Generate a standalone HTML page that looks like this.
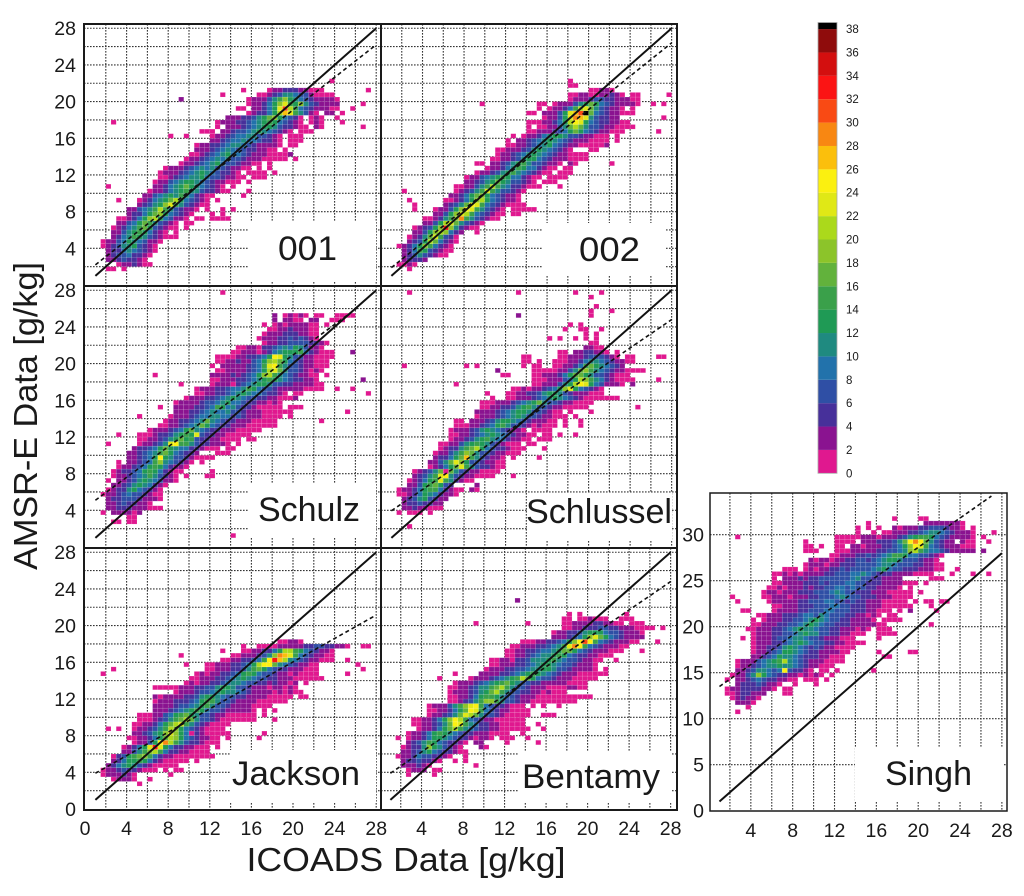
<!DOCTYPE html>
<html lang="en">
<head>
<meta charset="utf-8">
<title>AMSR-E vs ICOADS humidity scatter panels</title>
<style>
html,body{margin:0;padding:0;background:#fff;}
body{width:1024px;height:896px;overflow:hidden;}
svg{display:block;}
text{font-family:"Liberation Sans",sans-serif;fill:#1a1a1a;}
</style>
</head>
<body>
<svg id="chart" xmlns="http://www.w3.org/2000/svg" width="1024" height="896" viewBox="0 0 1024 896" style="filter:blur(0.35px)"></svg>
<script>
const gridTicks = [2,4,6,8,10,12,14,16,18,20,22,24,26,28];
const leftYLabels = [4,8,12,16,20,24,28];
const bottomYLabels = [0,4,8,12,16,20,24,28];
const leftXLabels = [0,4,8,12,16,20,24,28];
const midXLabels = [4,8,12,16,20,24,28];
const singhYTicks = [0,5,10,15,20,25,30];
const colorbarLevels = [0,2,4,6,8,10,12,14,16,18,20,22,24,26,28,30,32,34,36,38];
const colorbarColors = ['#e0188f','#8a1390','#47309a','#2f4fa5','#2272ab','#1f8a80','#1f9a55','#3aa04a','#62b23c','#8cc42a','#abd91b','#e0e816','#fbf010','#fbbf0c','#f88712','#f94a14','#fb1414','#d30f0f','#8f0c0c'];
const oneToOne = [[1,1],[28,28]];
const fit001 = [[1,2.2],[28,26.2]];
const fit002 = [[1,1.9],[28,26.4]];
const fitSchulz = [[1,5.1],[26.2,26.1]];
const fitSchlussel = [[1,3.95],[28,24.8]];
const fitJackson = [[1,3.9],[28,21.15]];
const fitBentamy = [[1,3.9],[28,24.8]];
const fitSingh = [[1,13.5],[27,34.2]];

/* each row: y bin, first x bin, then counts */
const cells001 = [
[1.5,2,1,1,0,1],[2,3,1,3,3,5,3,1,1],[2.5,2,3,3,5,7,5,5,3,1],[3,2,3,5,7,7,9,5,5,3,1],
[3.5,2,3,5,5,9,11,9,7,5,3,1],[4,1.5,1,3,5,7,11,11,13,7,5,3,1],[4.5,1.5,1,3,3,7,9,13,11,9,7,3,3,1],
[5,2.5,3,5,9,11,15,13,11,7,5,3,1,1,1],[5.5,2.5,3,3,7,11,13,15,13,9,5,3,1,0,1],
[6,2.5,1,3,5,9,11,15,17,13,7,5,3,1,1,0,1],[6.5,3,3,3,7,9,13,17,15,11,7,5,3,1,0,1,1],
[7,3,1,1,3,5,9,13,19,21,13,9,7,3,3,1,0,1,1,0,1,1,1,1],[7.5,4,3,5,5,9,13,17,19,13,9,7,5,3,1,0,0,0,1,0,1],
[8,4,3,3,7,9,11,15,21,15,11,7,5,3,3,1,0,1,0,0,1,0,1],[8.5,5,3,5,7,11,13,19,23,15,11,7,5,3,1,1],
[9,5,1,3,5,9,11,13,17,21,13,9,7,5,3,1,0,1],[9.5,5.5,3,3,7,9,11,13,11,15,11,9,5,3,1,1,0,0,0,0,0,1],
[10,6,1,3,3,5,9,11,13,15,11,11,7,5,5,3,1,1,0,0,0,1],[10.5,6.5,3,3,5,9,11,13,17,13,11,9,7,5,3,1,0,1],
[11,6.5,1,3,3,7,9,11,13,13,11,9,7,5,3,3,1,1,1,0,1],[11.5,7,1,1,3,5,7,9,11,11,13,9,7,7,5,3,3,1,1,0,1,1,1],
[12,7,1,3,3,3,5,7,9,11,13,11,9,7,5,5,3,1,0,1,1,1,1,0,1],[12.5,7.5,1,3,3,3,5,7,9,11,9,11,7,7,5,3,3,1,1,0,1,0,1],
[13,9,1,3,3,5,7,9,11,13,9,7,7,5,3,3,1,1,0,1],[13.5,9.5,1,3,3,5,7,9,11,9,11,7,7,5,3,3,3,1,1,1,1,1,0,1],
[14,10,1,1,3,5,7,9,11,13,9,9,7,5,3,3,3,1,1,1,1,3],[14.5,10.5,3,3,3,5,7,9,11,9,7,7,5,5,3,3,1,1,0,1],
[15,10.5,1,3,3,5,5,7,9,11,11,9,7,5,3,3,3,3,1,0,1,1],[15.5,12,3,3,5,7,9,9,11,9,9,7,5,5,3,1,0,1,1,1],
[16,12,1,3,3,5,7,9,9,11,11,7,7,5,3,1,0,1,1,1],[16.5,11,1,1,1,0,3,3,5,7,7,9,11,13,11,9,7,5,3,1,0,1,1,1],
[17,12.5,1,0,3,3,3,5,7,9,11,13,13,11,7,5,5,3,1,1,0,3,1],[17.5,12.5,1,3,3,3,5,5,7,9,11,13,15,13,9,7,5,3,1,0,1,3,1],
[18,13.5,3,3,3,5,5,7,11,13,17,19,13,9,7,5,1,0,1,3,1],[18.5,15.5,1,3,5,5,9,13,21,27,23,15,11,7,3,1,0,3,3,0,1],
[19,14.5,1,1,0,3,3,5,9,13,23,31,21,15,9,7,5,3,3,3,1,1],[19.5,15.5,1,3,3,5,9,13,19,23,15,13,19,11,7,5,3,3,3,3],
[20,15.5,1,3,3,3,7,11,15,19,13,11,9,7,5,3,3,3,3,1],[20.5,16.5,1,1,3,5,7,11,11,9,7,7,3,1,1,1,1],
[21,17.5,1,3,3,5,5,5,3,3,1,1,1],
[17.5,2.5,1],[10.5,2,1],[9,3,1],[20,9,3],[20.5,13,1],[21,15,1],[16,8,1],[16,9.5,1],[21,27,1],[19.5,26.5,1],[19,25.5,1],[17,26.5,1],[18,24,1],[17.5,24.5,1],[22,23.5,1]
];
const cells002 = [
[1.5,2.5,1],[2,1.5,1,1,3,1],[2.5,2,3,5,5,5,3],[3,2,3,5,7,11,7,5,3,1,1],[3.5,2,3,5,9,15,13,7,5,3,1,1],
[4,1.5,1,3,5,9,13,19,15,9,5,3,1],[4.5,2.5,3,5,7,13,21,17,9,5,3,1],[5,2.5,1,3,5,11,17,23,15,7,5,1],
[5.5,3,3,3,7,13,19,21,19,9,5,3,0,0,1],[6,3,1,3,5,7,13,19,33,19,11,5,3,1,1],
[6.5,4,3,3,7,13,21,23,17,11,7,5,3,1],[7,4,1,1,3,5,11,15,19,29,15,11,7,5,3,1,1],
[7.5,5,3,3,7,13,19,23,21,15,9,7,5,3,1,1,0,1,1],[8,5,1,3,3,7,13,19,25,23,15,11,7,5,3,1,0,1,1,1,1,1],
[8.5,6,3,5,7,11,17,25,23,15,9,7,5,3,1,1,1,1],[9,6,1,1,3,5,9,13,19,21,13,9,7,5,3,3,1],
[9.5,6.5,3,3,5,9,13,17,19,13,9,7,5,3,3,1],[10,7,1,3,5,7,11,15,23,15,11,7,7,5,3,1],
[10.5,7,1,1,3,3,7,11,15,21,15,11,9,5,5,3,1,1,1,0,0,0,1],[11,8,3,3,5,7,11,13,17,13,11,7,7,5,3,1,0,1,1,1],
[11.5,8,1,3,3,7,9,11,13,15,13,9,9,5,3,1,1,0,1,1,1,1],[12,9,1,3,3,5,7,11,13,15,11,9,7,5,3,1,1,0,1,1,1],
[12.5,10,1,3,3,5,9,11,15,13,9,9,5,3,1,1,0,1,1],[13,9,1,1,0,3,3,5,7,11,13,15,11,7,7,5,3,3,1,0,3,1],
[13.5,10.5,1,1,3,3,5,7,11,13,13,9,7,5,3,3,3,1,1,1,1],[14,11,1,3,3,5,7,9,11,13,11,9,7,5,3,3,1,1,1,1],
[14.5,11,1,1,3,3,3,5,7,11,13,11,9,7,5,3,1,0,0,0,1,1],[15,12,1,1,3,3,5,7,9,11,13,9,7,5,3,3,1,1,1,1,1],
[15.5,12,1,0,3,3,5,7,9,11,13,11,9,7,5,3,3,3,1,1,1,1,0,1],[16,12.5,1,0,1,3,3,5,9,11,13,13,11,7,7,5,3,3,1,1,1,0,1],
[16.5,14,1,1,3,3,3,5,7,9,13,17,13,9,7,5,3,3,1,1,1],[17,14,1,0,1,1,3,3,7,11,17,21,17,11,7,7,5,3,3,1,1,1,1],
[17.5,14,1,1,1,3,3,5,9,13,21,25,23,13,9,7,5,5,3,3,1,1],[18,15.5,1,3,3,7,13,23,29,27,23,11,7,5,5,3,3],
[18.5,14,1,1,0,3,3,3,7,13,23,27,31,39,17,9,7,5,3,3,1,1,1],[19,15,1,0,1,3,3,5,9,15,21,23,17,11,7,5,3,3,1,0,1],
[19.5,15,1,1,0,1,3,3,3,7,11,13,17,13,9,7,5,3,3,3,3,1],[20,18,1,3,3,3,5,7,7,5,5,3,3,3,1,1],
[20.5,18,1,1,3,3,1,1,3,3,5,3,1,0,1,1],[21,20,1,1,3,3,1],[21.5,18,1,1],[22,18,1],
[8.5,3,1],[9,2.5,1],[10,2,1],[8,3,1],[19.5,9.5,1],[18,27,1],[16.5,26.5,1],[19.5,26,1],[19.5,27,1],[20.5,27.5,1],[13,22,1],[15,21.5,3]
];
const cellsSchulz = [
[2.5,2.5,1,1,0,1,1],[3,4,1,1],[3.5,1.5,1,0,3,3,3,3,1,3],[4,2,3,3,5,5,5,3,3,3,1,1,1],[4.5,2,3,3,5,7,5,5,3,3,1],
[5,2,3,5,5,7,7,7,5,3,3,3,1],[5.5,1.5,1,3,3,5,7,9,7,7,5,3,1,1],[6,2,1,3,5,5,11,13,9,7,5,3,1],
[6.5,2.5,3,3,5,7,11,13,11,9,5,3,1],[7,2,1,0,3,3,5,7,11,13,11,9,7,3,3,1],[7.5,2.5,1,3,3,5,7,9,11,15,11,7,5,3,1,0,1,0,0,0,1,1],
[8,2.5,1,3,5,5,7,9,13,15,13,9,5,3,1,1,0,0,0,0,0,1],[8.5,3,1,3,3,5,7,9,13,15,13,9,5,3,3,1],
[9,3,1,0,3,3,5,7,9,15,19,11,9,7,5,3,1,0,1],[9.5,4,3,3,5,7,9,13,25,13,11,7,7,5,3,1,1,1,1],
[10,4,3,3,5,7,9,11,15,17,13,9,7,5,5,3,0,0,0,1,1,1],[10.5,4.5,3,5,5,7,9,13,17,13,11,9,9,5,5,3,1,1,1,0,1,1],
[11,5,1,3,3,5,7,11,23,25,15,15,11,7,5,5,3,3,3,1,0,1],[11.5,5,1,1,3,3,5,7,11,13,17,13,15,7,5,5,3,3,1,1,1,1,0,1,1],
[12,5,1,1,1,3,5,5,7,11,13,15,13,23,7,5,5,3,3,1,1,1,1,1],[12.5,6,1,3,3,3,5,7,9,13,17,11,9,7,5,5,3,3,3,1,1,1,1,1],
[13,7,1,1,3,3,5,7,9,11,17,13,9,7,5,5,3,3,3,1,1,1,1,1,1],[13.5,7.5,1,3,3,5,5,7,9,11,17,11,9,7,5,5,3,3,3,1,1,1,1,1],
[14,8,1,3,3,3,5,7,9,9,11,11,9,9,5,7,5,3,3,3,1,1,1,1,0,1],[14.5,8.5,3,3,3,5,5,7,9,11,9,9,11,7,7,5,3,3,3,1,1,1,1,1,1],
[15,8.5,3,3,3,3,5,5,7,9,15,13,9,11,7,5,5,3,1,1,1,1,1,0,1,1,1],[15.5,8.5,1,3,3,3,3,5,7,7,9,11,13,9,9,7,5,5,3,3,1,3,1],
[16,9.5,1,3,3,3,5,5,7,9,11,13,11,9,7,7,5,5,3,3,1,1,1,3],[16.5,10.5,1,1,3,3,5,5,7,9,11,13,11,9,9,7,5,5,3,1,0,1,1],
[17,10.5,1,3,3,3,5,5,7,9,9,11,15,13,9,7,7,5,3,3,3,3,3,1,1,1,1,0,0,1],[17.5,12,1,3,3,3,5,5,7,9,11,13,13,11,7,7,5,5,3,3,3,3,1,1],
[18,12,1,1,3,3,3,5,5,7,9,11,13,15,13,11,9,7,5,5,3,3,1,0,0],[18.5,12,3,3,3,3,5,3,5,7,9,13,19,21,15,11,9,7,5,3,3,1,1,0,1],
[19,12.5,1,1,3,3,3,3,5,7,9,13,21,23,17,11,7,7,5,3,1,3,1],[19.5,12,1,0,3,3,3,3,3,5,7,9,15,23,25,15,11,7,7,5,3,3,1,1,1],
[20,12.5,1,1,3,3,5,3,3,7,9,13,19,21,17,13,9,7,5,3,3,1,1,1],[20.5,12.5,1,1,1,1,3,3,5,5,7,9,13,25,23,13,11,7,7,3,3,1,1,1,1],
[21,14,1,1,3,3,3,1,3,5,9,11,13,13,13,15,9,5,3,1,1,1,0,0,0,3],[21.5,14.5,1,1,3,3,1,5,5,7,9,11,9,13,11,7,3,3,1],
[22,17,1,3,3,5,5,7,7,7,7,5,5,3,1],[22.5,16.5,1,3,3,3,5,5,7,5,7,5,3,1],[23,17,1,3,3,3,5,5,5,3,3,1,1],
[23.5,17.5,1,1,3,3,5,3,3,3,1,1],[24,17,1,0,1,3,1,3,3,3,3,1,1,0,1],[24.5,18,3,0,3,3,1,1,0,3,3,0,0,1,1,1],
[25,18,3,0,1,3,1,3,1,0,1,1,0,0,1,1,1,1],
[1,14,1],[27.5,13,1],[17.5,9,1],[17.5,14,1],[17,25.5,1],[18,26.5,3],[16.5,27,1],[14.5,25,1],[13.5,22.5,1],[18.5,6.5,1],[15,7,1],[14,5,1],[12,3,1],[11,2,1]
];
const cellsSchlussel = [
[2,2.5,1],[3.5,1.5,1,0,1,1,1,0,1],[4,2,3,3,5,3,3,1,1,1],[4.5,2,3,5,5,7,5,5,3,3],[5,2,3,5,7,11,13,7,5,3,3],
[5.5,1.5,1,1,3,5,9,13,11,9,5,3,3,1],[6,1.5,1,3,3,5,9,13,15,15,9,5,3,1,0,0,1,1],[6.5,2.5,3,3,7,13,15,17,13,7,5,0,0,0,0,3],
[7,2.5,1,3,5,9,13,15,23,15,11,5,3,1,1],[7.5,3,3,5,7,11,15,23,25,11,7,5,3,3,1,1,1,1],[8,3,1,3,5,7,11,17,23,17,11,7,5,3,3,1,1,1,1],
[8.5,4.5,1,3,5,9,13,17,23,15,11,7,5,5,3,1,1],[9,4.5,3,3,7,11,17,23,19,13,7,7,5,3,3,1,1],
[9.5,5,3,5,5,9,13,17,27,15,11,7,5,3,3,1,0,1,0,0,0,0,1],[10,5,1,3,3,7,11,15,19,17,11,7,7,5,3,3,1,1,1],
[10.5,5.5,1,3,5,5,11,15,17,21,13,9,7,5,5,3,1,1,1,0,0,0,1],[11,5.5,1,1,3,3,7,11,13,15,13,11,7,5,3,1,1,1,0,1,1],
[11.5,6.5,1,3,3,5,7,11,13,15,11,9,9,5,3,3,1,1,0,1,1,1],[12,6.5,1,1,3,3,5,7,9,11,13,11,9,7,5,3,3,1,1,0,1,1,0,1,0,0,1],
[12.5,6.5,1,3,3,3,5,7,11,13,11,9,7,5,3,3,1,0,1,1,1,1],[13,7,1,1,1,3,3,5,7,9,13,15,11,7,7,5,3,1,3,1,1,1,0,1,0,0,1],
[13.5,7,1,1,0,3,3,3,5,7,11,13,13,11,9,7,5,3,3,3,1,1,0,1,0,0,1],[14,9,1,3,3,3,5,7,9,11,13,11,7,7,5,3,3,1,1,1,0,1],
[14.5,9,3,3,3,3,5,7,9,11,13,13,11,7,7,5,3,1,1,0,1,0,0,0,1],[15,9.5,1,1,3,3,5,5,7,11,13,15,11,7,7,5,3,3,1,1,1,1,1],
[15.5,9.5,1,1,1,3,3,3,5,7,9,11,13,17,11,7,7,5,3,3,1,1,1,1],[16,12,1,1,3,3,3,5,7,9,11,13,11,9,7,5,3,1,1,1,1,1,1,1],
[16.5,12,1,1,3,3,5,5,7,11,13,13,11,7,5,3,3,3,1,1,1],[17,12.5,1,1,3,1,3,3,5,7,9,13,19,23,13,9,7,5,3,1],
[17.5,14.5,1,1,3,3,3,7,11,13,21,25,23,13,9,7,3,3,3,1],[18,14.5,1,1,1,3,3,3,7,9,13,21,19,15,11,9,5,3,1,1,1,1],
[18.5,14.5,1,1,3,3,3,5,9,13,17,17,13,11,7,7,5,3,1,1,1],[19,14.5,1,1,1,1,1,3,3,7,11,17,19,15,11,9,7,5,3,3,1,1,1],
[19.5,13.5,1,0,1,1,0,0,1,1,3,3,5,9,15,17,13,11,9,7,5,3],[20,13.5,1,1,0,1,0,0,1,1,1,3,3,5,9,11,11,9,7,5,3,3,1,1],
[20.5,13.5,1,1,0,0,0,0,0,1,1,3,3,3,5,7,7,7,5,3,1,0,1,1],[21,17,1,1,0,3,3,5,5,3,3,1,0,1],[21.5,19.5,3,3,1,1],
[22,20,1,1],[22.5,16,1,0,1,0,0,1,0,1,0,1],[23,19.5,1,0,1],[23.5,17.5,1,0,0,1,1,0,0,1],[24,18,1,0,1],
[25,13,3],[18.5,11.5,1],[16.5,10,1],[16,10.5,1],[19.5,2,1],[19.5,8,1],[19.5,9,1],[17.5,7,1],[19,11,3],[18.5,12,1],[15,24.5,1],[18,26.5,1],[19,25,1],[20.5,26.5,1,1],[17.5,24,3],
[25,20,1],[25.5,20,1],[25.5,22,1],[26,20.5,1],[27,20,1,0],[27.5,2.5,1],[27.5,13,1],[27.5,18.5,1],[27.5,21,1],[8,6,1],[6,8.5,3],[6,7.5,1],[7.5,12.5,1]
];
const cellsJackson = [
[3,2.5,1,3,3,3,1,0,0,1],[3.5,1.5,1,3,3,3,5,3,1],[4,1.5,1,3,3,5,7,5,5,3,1,1,1,0,1,0,1,1],[4.5,2,3,5,9,11,13,11,7,5,3,1,1,1,1,1],
[5,2.5,3,5,9,13,13,15,13,9,5,3,1,1,1,1,1,0,1],[5.5,2.5,1,5,7,13,15,17,19,15,9,5,3,3,1,1,1,1,1,1,1,1],
[6,3.5,3,3,7,11,15,19,21,15,9,5,5,3,3,1,1,1,1],[6.5,3.5,1,3,5,9,13,23,33,23,13,9,5,5,3,3,1,1,1,0,1],
[7,4.5,1,3,3,7,13,25,29,21,15,11,7,5,5,3,1,1,1],[7.5,4,1,1,3,3,5,9,13,17,21,19,13,9,7,5,3,3,1,1,0,1],
[8,4.5,3,3,5,7,11,13,19,23,19,13,9,7,5,3,1,1,1,1,1],[8.5,2,1,0,1,0,0,1,3,3,5,7,11,15,21,19,13,9,7,5,3,1,1,1,1],
[9,4.5,1,1,3,3,5,9,13,17,21,23,15,11,7,5,3,1,1,1,1],[9.5,5,1,1,1,3,5,7,11,15,17,21,17,11,7,7,5,3,1,1,1,1,1,1,1,0,0,0,1],
[10,5,1,1,1,3,3,7,9,13,15,17,13,11,7,7,5,3,3,1,1,1,1,1,1,0,1],[10.5,6.5,3,3,3,5,7,9,11,13,15,13,9,7,7,5,3,3,3,3,3,1,0,1,0,1],
[11,6.5,3,3,3,3,5,7,7,9,11,13,15,11,7,7,5,3,3,3,3,1,1,1,1],[11.5,6.5,1,3,3,3,5,5,5,7,9,13,15,15,11,7,7,5,3,3,3,3,1,1,1,1,1,1],
[12,6.5,3,1,3,3,3,3,5,5,7,11,13,13,11,9,7,7,5,5,3,3,3,3,1,1,1,1,1,0,1,1],[12.5,8.5,1,3,3,3,5,7,7,9,11,13,11,11,9,7,5,3,3,3,3,1,3,1,3,1,1],
[13,6.5,1,1,1,1,1,3,3,3,5,5,7,7,11,13,13,11,7,7,5,3,3,3,1,3,3,1,3,1],[13.5,9.5,1,3,1,3,3,5,5,7,9,11,11,9,7,7,5,5,3,5,3,3,1,3,0,1],
[14,10,1,1,3,3,3,5,5,7,9,11,13,11,9,7,7,5,5,3,3,3,1,1,1,1,1,1],[14.5,10.5,1,3,1,3,3,5,5,7,9,13,15,13,9,7,7,5,3,3,1,3,1,1,1,1],
[15,11.5,1,1,3,3,3,5,5,7,11,15,17,13,9,7,5,5,3,3,3,1,1,1],[15.5,11.5,1,1,3,3,3,5,5,7,9,13,21,25,25,17,11,9,7,5,3,3,1,1],
[16,13,1,1,3,3,5,5,7,9,15,25,33,27,21,11,9,7,5,3,3,1,1,1],[16.5,14,1,1,3,3,3,5,7,11,19,29,27,23,15,9,7,5,3,3,1,1],
[17,15,1,1,3,3,5,5,9,13,21,21,15,13,9,7,5,3,3,1],[17.5,16.5,1,1,1,1,3,3,3,3,3,5,5,7,7,5,5,3,3,1],[18,18.5,1,1,3,3,1],
[2.5,5,1],[3.5,8,1],[8,10,1],[7.5,16.5,1],[16,25,1],[15,26.5,1],[14.5,25,1],[17.5,26.5,1,1],[14.5,1.5,1],[16.5,9,1],[15.5,9.5,1],[15,2.5,1],[15.5,26,1],[17,13,1],[17.5,15,1],[8,17,1],[17,15.5,1]
];
const cellsBentamy = [
[3.5,2.5,1],[3.5,5,1],[4,2.5,1,3,3,3,0,1],[4,5.5,1],[4.5,2,3,3,3,5,3,1],[5,2,3,5,5,7,5,5,3,1,0,0,1],[5.5,1.5,1,3,3,5,9,7,7,5,5,3,1,0,0,1],
[6,2,3,3,5,7,11,13,9,7,5,5,3,1,1],[6.5,2,1,3,5,5,11,19,13,11,7,5,3,1,0,0,0,3,1],[7,2.5,3,5,7,11,15,13,9,7,5,5,3,1,0,3,3],
[7.5,1.5,1,0,1,3,3,5,9,13,13,11,9,7,5,5,3,1,3,3,1,0,1,1,1],[8,2.5,1,3,3,5,9,13,15,13,11,9,7,5,5,3,3,3,1,1,1,1,0,0,1],
[8.5,3.5,1,3,3,5,9,13,17,21,15,11,9,7,5,5,3,3,1,1,1,1,1,1],[9,3,1,1,3,3,5,7,11,17,25,23,15,11,9,5,5,3,3,1,1,1,1,1,0,0,1],
[9.5,3,1,1,3,3,5,9,13,19,25,21,15,9,7,5,3,3,1,1,1,1,1,1],[10,4.5,1,3,3,5,7,11,17,23,21,17,11,7,7,5,3,1,1,1,1,1,0,0,1,1,1],
[10.5,4.5,1,1,3,3,5,9,13,17,25,23,15,9,7,5,3,3,1,1,1,1],[11,4.5,1,3,3,3,7,11,15,19,23,25,15,9,7,5,5,3,1,1,1,0,1,0,1,0,0,1],
[11.5,6.5,1,1,3,5,7,11,15,19,19,15,11,7,7,5,3,3,1,1,1,1,1,1,1,1,1],[12,6.5,1,1,3,3,5,9,13,15,15,13,11,7,7,5,3,3,3,1,1,1,1,1,1,1,1,1,1,1],
[12.5,6.5,1,3,3,3,5,7,11,13,17,21,15,11,7,7,5,5,3,3,1,3,1,1,1],[13,6.5,1,1,3,3,5,7,11,11,15,17,21,15,11,7,7,5,3,3,3,1,1,1,1,3,3,1,1],
[13.5,7,1,3,3,3,5,7,9,11,13,15,17,13,11,7,7,5,5,3,3,3,3,3,1,1,1,1],[14,8.5,1,3,3,3,5,7,9,11,13,15,21,17,13,9,7,7,5,3,3,3,1,1,1,1,1],
[14.5,9.5,3,3,3,3,5,5,7,9,11,13,15,13,11,9,7,5,3,3,3,1,1,1,1,1,1],[15,10,1,3,3,3,5,5,7,7,9,11,11,13,13,11,7,7,5,3,3,3,3,1,0,1],
[15.5,10.5,1,1,3,3,3,5,5,7,9,11,13,13,11,9,7,7,5,3,3,3,1],[16,10.5,1,1,3,3,3,5,5,7,11,11,11,13,15,11,9,7,7,5,3,3,1,1,0,0,1],
[16.5,12,1,1,3,3,5,7,9,11,11,13,15,13,9,7,5,5,3,3,1,1,1],[17,12,1,1,3,3,5,5,7,9,9,11,13,17,17,13,9,7,5,3,3,3,1,1,1],
[17.5,12.5,1,1,3,3,3,5,5,7,9,11,15,23,29,25,15,9,7,5,3,3,3,1,1],[18,13.5,1,1,1,3,3,5,5,7,9,13,19,25,31,25,15,9,7,5,3,3,3,1,1,0,0,0,1],
[18.5,16.5,3,3,3,5,7,9,13,19,23,17,13,9,7,5,3,3,3,3],[19,16.5,1,3,3,5,5,7,11,13,13,13,9,7,7,5,3,3,3,1],
[19.5,17.5,1,1,3,3,5,5,5,7,7,5,5,3,3,3,1,1,1],[20,17.5,1,1,3,3,3,3,5,5,3,3,1,1,0,1,1,1],[20.5,17.5,1,1,0,1,1,3,1,1,1,0,0,1,1,1],
[21,18,1,0,1,0,0,0,0,0,0,0,0,1],[4.5,9,1],[7,12,1],[7,15,1],[7.5,14,1],[5,8,1],[9.5,12.5,1],[8.5,15.5,1],[17,25,1],[16,12.5,1],[14,5.5,1],[14.5,7,1],[19.5,26,1],[19.5,27,1],[19,25,1],[20,9,1],[20,14,1],[22.5,13,3]
];
const cellsSingh = [
[10.5,2.5,1],[11,3.5,1],[11.5,2.5,3,3,3,1],[12,2,1,3,5,3,3,1],[12.5,1.5,1,1,3,5,5,3,3,3,0,0,0,1,1],[13,1.5,1,3,3,5,5,5,5,3,3,1,0,1,1],
[13.5,2.5,3,5,5,5,7,5,3,3,1,0,0,1,0,0,0,1],[14,1.5,1,0,3,3,5,7,9,7,5,5,3,3,1,1,0,1,1,1,0,1],[14.5,2,1,3,3,7,11,19,13,9,7,5,5,3,3,1,3,1,3,1,0,1],
[15,2.5,3,3,5,7,11,11,9,7,9,25,7,5,5,3,1,0,1,1,0,1,0,0,0,0,0,0,1],[15.5,2.5,1,3,3,5,7,9,11,11,13,11,11,9,7,5,3,3,1,1,1],
[16,2.5,1,3,3,3,7,9,11,13,15,21,11,9,7,5,3,3,3,1,1,1,1],[16.5,4,3,3,5,7,9,13,11,11,9,7,5,5,5,3,3,1,1,1,0,0,0,0,0,0,0,1,1],
[17,4,1,3,3,5,7,9,13,13,11,9,7,5,5,3,3,3,3,1,1,0,0,0,0,0,1,0,0,0,0,0,1,1],[17.5,4,1,3,3,5,5,7,11,13,11,9,7,5,7,5,3,3,1,1,1,1],
[18,4,1,3,3,3,5,5,7,9,11,13,11,9,7,7,5,5,3,3,1,1,1,1],[18.5,3,1,0,1,3,3,3,5,7,7,9,11,11,9,7,7,5,3,3,3,1,1,1],
[19,4,1,3,3,3,5,5,7,7,9,11,13,11,11,7,7,5,5,3,3,1,1,1,0,0,1,1,1,1],[19.5,3.5,1,1,3,3,3,5,5,7,9,11,13,11,11,9,7,7,5,5,3,3,3,1,3,1,0,1,1,1],
[20,4,1,1,3,3,3,5,5,7,7,9,11,13,11,9,7,7,5,5,5,3,3,3,3,3,1,1],[20.5,4,1,0,1,3,3,3,5,5,7,7,9,11,13,11,9,7,7,5,5,3,3,3,3,1,0,1,1,1,1],
[21,4.5,1,1,3,3,3,5,5,5,7,9,9,7,11,9,7,7,7,5,5,3,3,1,3,1,0,1,1],[21.5,3.5,1,0,0,0,0,1,3,3,3,3,5,5,7,7,7,9,9,7,7,7,5,5,5,3,3,1,1,1,0,1,0,3,0,0,0,0,1],
[22,6,1,1,3,3,3,5,5,5,7,7,7,9,9,7,7,5,5,5,3,3,3,1,1,1,1,1,1],[22.5,2.5,1,0,0,0,0,0,1,3,3,3,3,3,5,5,7,7,7,9,9,7,7,5,7,5,5,3,3,3,1,1,1,1,1,0,1,0,1,1],
[23,5,1,1,3,3,3,1,3,3,3,5,5,7,7,7,9,11,9,7,7,5,5,5,3,3,3,1,1,1,1],[23.5,5,1,3,3,1,3,3,3,5,5,5,7,7,7,9,11,9,7,7,5,5,5,3,3,3,1,1,1,1,1,0,1],
[24,5.5,1,1,3,1,3,3,3,5,3,5,5,7,7,9,9,7,9,7,7,5,5,3,3,3,3,1,0,1],[24.5,6,1,1,3,3,3,3,5,5,5,7,5,7,7,7,9,9,7,7,5,5,5,3,3,3,3,1,1,1,0,1],[25,6,1,0,3,3,3,5,3,5,5,7,7,7,7,7,7,9,11,7,7,5,5,3,3,3,3,0,0,0,0,0,1,1,1],
[25.5,6,1,1,3,1,3,1,3,3,3,3,5,5,7,7,7,9,9,11,9,7,5,5,5,3,3,3,3,1,1,1,1,0,0,0,1],[26,7,1,1,1,0,1,3,1,3,3,5,5,7,5,7,7,7,7,9,11,13,9,7,7,5,5,5,3,3,3,1,1,0,0,1],
[26.5,9,1,3,3,3,1,3,3,5,5,5,7,7,7,7,9,11,11,9,7,7,7,5,5,3,3,1,1],[27,9.5,3,1,3,3,1,3,3,5,5,7,7,5,7,9,11,13,13,11,7,7,7,5,3,3,1],
[27.5,11.5,1,1,3,3,3,5,5,7,5,7,9,11,15,15,13,9,9,7,7,5,3,1],[28,9,1,1,1,0,0,0,1,1,1,3,3,3,3,3,5,5,7,7,9,11,19,21,15,11,9,9,7,5,3,3,3,3,3,0,3],
[28.5,9,1,1,0,1,0,0,1,1,0,3,3,1,3,3,3,5,5,7,9,13,19,25,23,15,9,7,5,3,3,3,1,1,1],[29,9,1,0,0,0,0,0,1,1,1,1,0,3,3,3,5,5,5,7,11,17,25,29,25,17,11,7,5,3,3,0,3,1,1],
[29.5,12,1,1,1,1,1,3,3,3,1,3,3,3,5,7,11,13,15,15,13,9,7,5,3,3,3,3,1],[30,14,1,0,0,1,0,1,1,3,3,3,5,5,7,9,11,11,9,7,5,3,3,3,1],
[30.5,14,1,0,1,0,1,0,0,3,1,3,3,3,5,5,7,7,7,5,3,3,1,0,1],[31,15,1,0,0,0,0,0,0,0,0,0,0,3,3,3,3,3,3,3,1],[31.5,17.5,1,0,0,0,0,1,1],
[29.5,2.5,1],[23,2,1],[21.5,3,1],[29.5,26,1],[29,26.5,1],[30,27,1],[25.5,25,1],[25.5,26.5,1],[22.5,22,1],[22,21,1],[22.5,22.5,1],[18.5,16,1],[20,21,1]
];

const svgNS = 'http://www.w3.org/2000/svg';
const chart = document.getElementById('chart');

function node(tag, attrs, parent) {
  const el = document.createElementNS(svgNS, tag);
  Object.keys(attrs).forEach(function (k) { el.setAttribute(k, attrs[k]); });
  parent.appendChild(el);
  return el;
}
function colorFor(value) {
  if (value >= 38) return '#000000';
  return colorbarColors[Math.floor(value / 2)];
}
function label(str, x, y, size, anchor, parent) {
  const el = node('text', {x: x, y: y, 'font-size': size, 'text-anchor': anchor}, parent);
  el.textContent = str;
  return el;
}

const panels = [
 {id:'001', cells:cells001, fit:fit001, x0:85, xu:10.4, y0:285, yu:9.17, box:[84,24,297,262], mask:[249,221,127,61], title:[278,260,59], yTicks:gridTicks},
 {id:'002', cells:cells002, fit:fit002, x0:381, xu:10.38, y0:285, yu:9.17, box:[381,24,296,262], mask:[543,223,122,52], title:[579,261,61], yTicks:gridTicks},
 {id:'schulz', name:'Schulz', cells:cellsSchulz, fit:fitSchulz, x0:85, xu:10.4, y0:547, yu:9.17, box:[84,286,297,262], mask:[248,483,128,54], title:[258,521,102], yTicks:gridTicks},
 {id:'schlussel', name:'Schlussel', cells:cellsSchlussel, fit:fitSchlussel, x0:381, xu:10.38, y0:547, yu:9.17, box:[381,286,296,262], mask:[527,493,145,47], title:[526,523,146], yTicks:gridTicks},
 {id:'jackson', name:'Jackson', cells:cellsJackson, fit:fitJackson, x0:85, xu:10.4, y0:809, yu:9.17, box:[84,548,297,262], mask:[230,750,146,53], title:[232,785,128], yTicks:gridTicks},
 {id:'bentamy', name:'Bentamy', cells:cellsBentamy, fit:fitBentamy, x0:380, xu:10.38, y0:809, yu:9.17, box:[381,548,296,262], mask:[518,752,154,51], title:[522,788,138], yTicks:gridTicks},
 {id:'singh', name:'Singh', cells:cellsSingh, fit:fitSingh, x0:709, xu:10.46, y0:810.7, yu:9.2, box:[710,493,297,318], mask:[855,747,148,55], title:[885,785,87], yTicks:singhYTicks}
];

panels.forEach(function (p) {
  const group = node('g', {}, chart);
  
  
  const sx = function (v) { return p.x0 + v * p.xu; };
  const sy = function (v) { return p.y0 - v * p.yu; };
  const b = p.box;

  const grid = node('g', {stroke:'#333', 'stroke-width':1.1, 'stroke-dasharray':'1.6 1.4', fill:'none'}, group);
  
  
  gridTicks.forEach(function (t) {
    node('line', {x1:sx(t), x2:sx(t), y1:b[1], y2:b[1]+b[3]}, grid);
  });
  p.yTicks.forEach(function (t) {
    if (sy(t) > b[1] && sy(t) < b[1]+b[3]-1) node('line', {x1:b[0], x2:b[0]+b[2], y1:sy(t), y2:sy(t)}, grid);
  });

  const mask = node('rect', {x:p.mask[0], y:p.mask[1], width:p.mask[2], height:p.mask[3], fill:'#fff'}, group);
  
  

  const heat = node('g', {stroke:'#fff', 'stroke-opacity':0.22, 'stroke-width':0.5}, group);
  
  
  p.cells.forEach(function (row) {
    const yv = row[0], xStart = row[1];
    row.slice(2).forEach(function (count, i) {
      if (!count) return;
      const xv = xStart + i * 0.5;
      const rect = node('rect', {x:sx(xv), y:sy(yv + 0.5), width:p.xu / 2, height:p.yu / 2, fill:colorFor(count)}, heat);
      
      
    });
  });

  const solid = node('line', {x1:sx(oneToOne[0][0]), y1:sy(oneToOne[0][1]), x2:sx(oneToOne[1][0]), y2:sy(oneToOne[1][1]), stroke:'#111', 'stroke-width':2}, group);
  
  
  const dashed = node('line', {x1:sx(p.fit[0][0]), y1:sy(p.fit[0][1]), x2:sx(p.fit[1][0]), y2:sy(p.fit[1][1]), stroke:'#111', 'stroke-width':1.6, 'stroke-dasharray':'4 3'}, group);
  
  

  const frame = node('rect', {x:b[0], y:b[1], width:b[2], height:b[3], fill:'none', stroke:'#1a1a1a', 'stroke-width':p.id === 'singh' ? 1.5 : 2}, group);
  
  

  const title = label(p.name || p.id, p.title[0], p.title[1], 34, 'start', group);
  title.setAttribute('textLength', p.title[2]);
  title.setAttribute('lengthAdjust', 'spacingAndGlyphs');
  
  

  const yLabels = p.id === 'singh' ? singhYTicks : (p.id === 'jackson' ? bottomYLabels : ((p.id === '001' || p.id === 'schulz') ? leftYLabels : []));
  yLabels.forEach(function (t) {
    const right = p.id === 'singh' ? 704 : 76;
    const tick = label(String(t), right, sy(t) + 7, 19.5, 'end', group);
    
    
  });
  const xLabels = (p.id === 'jackson') ? leftXLabels : ((p.id === 'bentamy' || p.id === 'singh') ? midXLabels : []);
  xLabels.forEach(function (t) {
    const tick = label(String(t), sx(t), p.id === 'singh' ? 837 : 835, 19.5, 'middle', group);
    
    
  });
});

const yTitle = label('AMSR-E Data [g/kg]', 0, 0, 33, 'middle', chart);
yTitle.setAttribute('transform', 'translate(37,416) rotate(-90)');
yTitle.setAttribute('textLength', 308);
yTitle.setAttribute('lengthAdjust', 'spacingAndGlyphs');



const xTitle = label('ICOADS Data [g/kg]', 406, 871, 33, 'middle', chart);
xTitle.setAttribute('textLength', 319);
xTitle.setAttribute('lengthAdjust', 'spacingAndGlyphs');



const bar = node('g', {}, chart);


const barY = function (v) { return 473.3 - v * 11.69; };
colorbarColors.forEach(function (c, i) {
  const swatch = node('rect', {x:818, y:barY(colorbarLevels[i + 1]), width:19, height:barY(colorbarLevels[i]) - barY(colorbarLevels[i + 1]), fill:c}, bar);
  
  
});
const topCap = node('rect', {x:818, y:22.5, width:19, height:barY(38) - 22.5, fill:'#000'}, bar);


const barEdge = node('rect', {x:818, y:22.5, width:19, height:473.3 - 22.5, fill:'none', stroke:'#aaa', 'stroke-width':0.8}, bar);


colorbarLevels.forEach(function (v) {
  const t = label(String(v), 846, barY(v) + 4, 11.5, 'start', bar);
  
  
});
</script>
</body>
</html>
